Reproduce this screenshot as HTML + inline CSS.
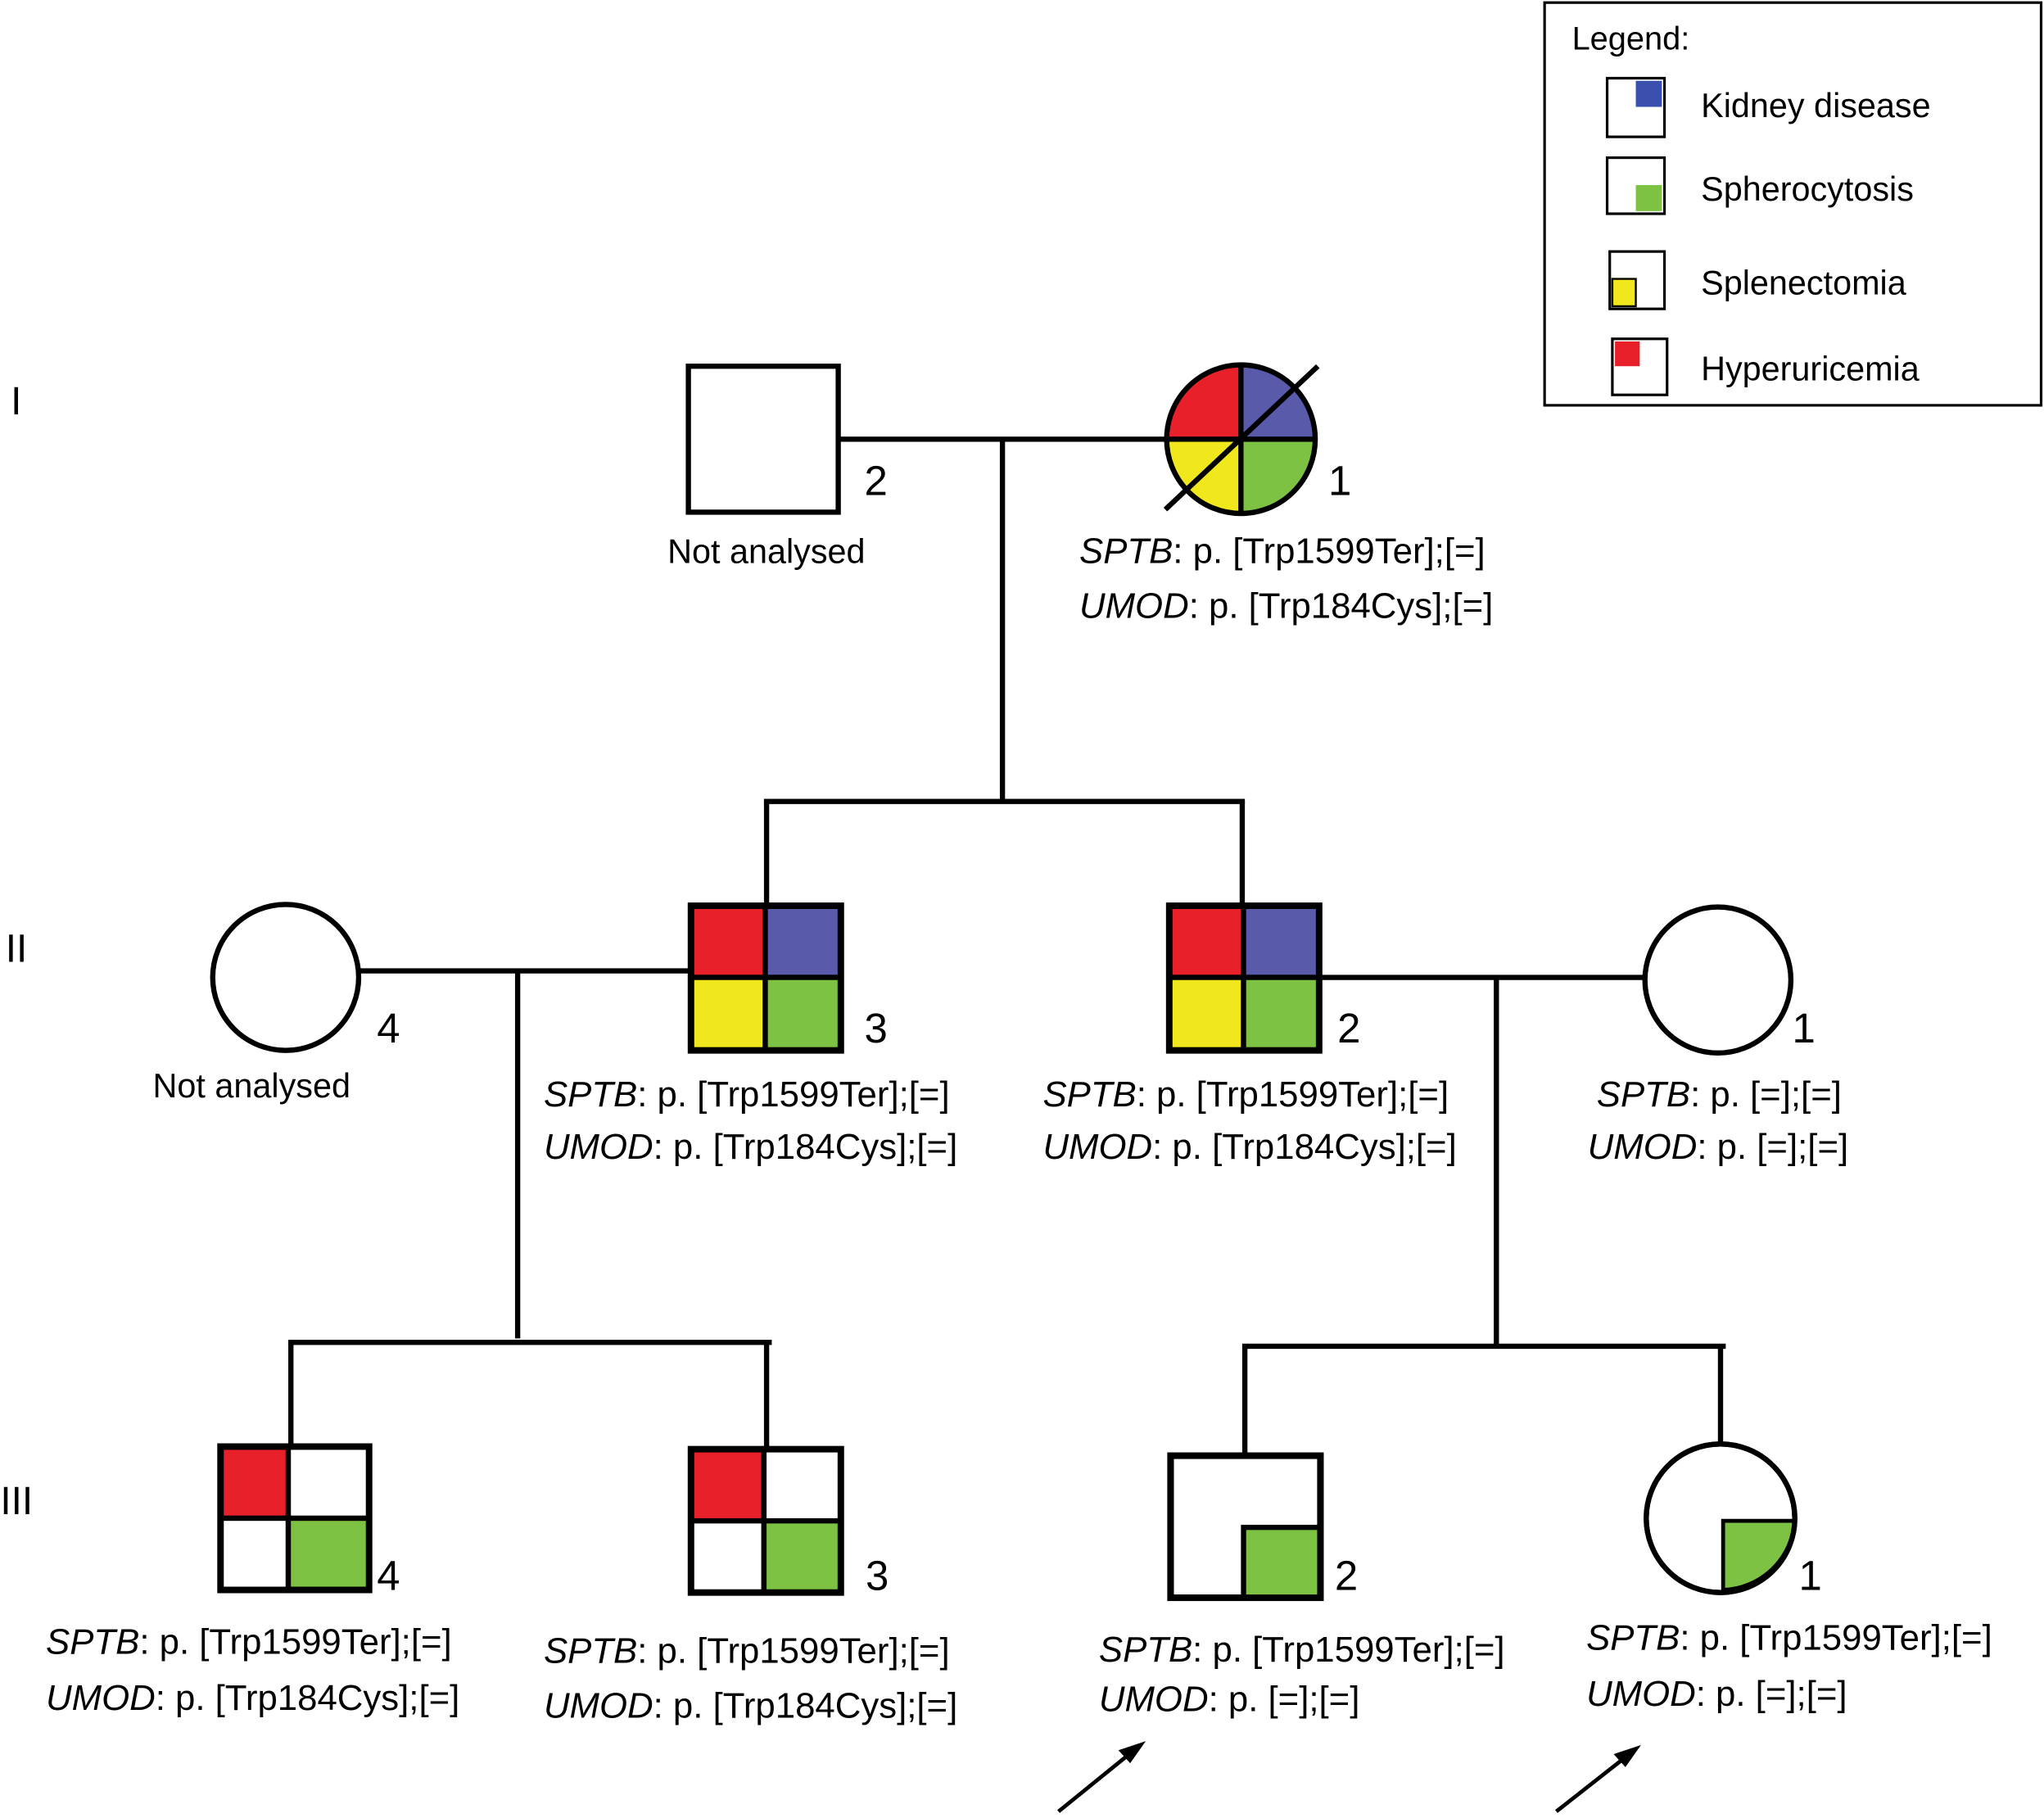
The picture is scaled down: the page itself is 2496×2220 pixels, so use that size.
<!DOCTYPE html>
<html><head><meta charset="utf-8"><style>html,body{margin:0;padding:0;background:#fff}svg{display:block}text{font-family:"Liberation Sans",sans-serif;fill:#000}</style></head>
<body>
<svg width="2496" height="2220" viewBox="0 0 1568 1395" xmlns="http://www.w3.org/2000/svg">
<rect width="1568" height="1395" fill="#fff"/>
<g stroke="#000" stroke-width="2" fill="none">
<rect x="1185" y="2" width="381" height="309"/>
</g>
<text x="1206" y="38" font-size="25">Legend:</text>
<g stroke="#000" stroke-width="2">
<rect x="1233" y="60" width="44" height="45" fill="#fff"/><rect x="1255" y="62" width="20" height="20" fill="#3a4fae" stroke="none"/>
<rect x="1233" y="121" width="44" height="43" fill="#fff"/><rect x="1255" y="142" width="20" height="20" fill="#7dc242" stroke="none"/>
<rect x="1235" y="193" width="42" height="44" fill="#fff"/><rect x="1237" y="214" width="18" height="21" fill="#f0e81c" stroke="#000" stroke-width="1.5"/>
<rect x="1237" y="260" width="42" height="43" fill="#fff"/><rect x="1239" y="262" width="19" height="19" fill="#e8202a" stroke="none"/>
</g>
<g font-size="26">
<text x="1305" y="90">Kidney disease</text>
<text x="1305" y="154">Spherocytosis</text>
<text x="1305" y="226">Splenectomia</text>
<text x="1305" y="292">Hyperuricemia</text>
</g>
<g font-size="30"><text x="8" y="318">I</text><text x="4" y="738">II</text><text x="0" y="1162">III</text></g>

<g stroke="#000" stroke-width="4" fill="none">
<line x1="643" y1="337" x2="896" y2="337"/>
<line x1="769" y1="337" x2="769" y2="615"/>
<line x1="586" y1="615" x2="955" y2="615"/>
<line x1="588" y1="615" x2="588" y2="695"/>
<line x1="953" y1="615" x2="953" y2="695"/>
<line x1="276" y1="745" x2="530" y2="745"/>
<line x1="397" y1="745" x2="397" y2="1027"/>
<line x1="221" y1="1030" x2="592" y2="1030"/>
<line x1="223" y1="1030" x2="223" y2="1110"/>
<line x1="588" y1="1030" x2="588" y2="1112"/>
<line x1="1012" y1="750" x2="1262" y2="750"/>
<line x1="1148" y1="750" x2="1148" y2="1033"/>
<line x1="953" y1="1033" x2="1324" y2="1033"/>
<line x1="955" y1="1033" x2="955" y2="1117"/>
<line x1="1320" y1="1033" x2="1320" y2="1108"/>
</g>

<rect x="528" y="281" width="115" height="112" fill="#fff" stroke="#000" stroke-width="4"/>
<g>
<path d="M952 337 L895 337 A57 57 0 0 1 952 280 Z" fill="#e8202a"/>
<path d="M952 337 L952 280 A57 57 0 0 1 1009 337 Z" fill="#5a5aab"/>
<path d="M952 337 L895 337 A57 57 0 0 0 952 394 Z" fill="#f0e81c"/>
<path d="M952 337 L1009 337 A57 57 0 0 1 952 394 Z" fill="#7dc242"/>
<g stroke="#000" stroke-width="4" fill="none">
<circle cx="952" cy="337" r="57"/>
<line x1="895" y1="337" x2="1009" y2="337"/><line x1="952" y1="280" x2="952" y2="394"/>
<line x1="894" y1="391" x2="1011" y2="281"/>
</g>
</g>
<g font-size="32"><text x="663" y="380">2</text><text x="1019" y="380">1</text></g>
<text x="512" y="432" font-size="26">Not analysed</text>
<g font-size="27.5">
<text x="828" y="432"><tspan font-style="italic">SPTB</tspan>: p. [Trp1599Ter];[=]</text>
<text x="828" y="474"><tspan font-style="italic">UMOD</tspan>: p. [Trp184Cys];[=]</text>
</g>

<circle cx="219" cy="750" r="56" fill="#fff" stroke="#000" stroke-width="4"/>
<text x="289" y="800" font-size="32">4</text>
<text x="117" y="842" font-size="26">Not analysed</text>
<g stroke="#000" stroke-width="4">
<rect x="530" y="695" width="57" height="55" fill="#e8202a"/><rect x="587" y="695" width="58" height="55" fill="#5a5aab"/>
<rect x="530" y="750" width="57" height="56" fill="#f0e81c"/><rect x="587" y="750" width="58" height="56" fill="#7dc242"/>
<rect x="530" y="695" width="115" height="111" fill="none" stroke-width="5"/>
</g>
<text x="663" y="800" font-size="32">3</text>
<g stroke="#000" stroke-width="4">
<rect x="897" y="695" width="57" height="55" fill="#e8202a"/><rect x="954" y="695" width="58" height="55" fill="#5a5aab"/>
<rect x="897" y="750" width="57" height="56" fill="#f0e81c"/><rect x="954" y="750" width="58" height="56" fill="#7dc242"/>
<rect x="897" y="695" width="115" height="111" fill="none" stroke-width="5"/>
</g>
<text x="1026" y="800" font-size="32">2</text>
<circle cx="1318" cy="752" r="56" fill="#fff" stroke="#000" stroke-width="4"/>
<text x="1375" y="800" font-size="32">1</text>
<g font-size="27.5">
<text x="417" y="849"><tspan font-style="italic">SPTB</tspan>: p. [Trp1599Ter];[=]</text>
<text x="417" y="889"><tspan font-style="italic">UMOD</tspan>: p. [Trp184Cys];[=]</text>
<text x="800" y="849"><tspan font-style="italic">SPTB</tspan>: p. [Trp1599Ter];[=]</text>
<text x="800" y="889"><tspan font-style="italic">UMOD</tspan>: p. [Trp184Cys];[=]</text>
<text x="1225" y="849"><tspan font-style="italic">SPTB</tspan>: p. [=];[=]</text>
<text x="1218" y="889"><tspan font-style="italic">UMOD</tspan>: p. [=];[=]</text>
</g>

<g stroke="#000" stroke-width="4">
<rect x="169" y="1110" width="52" height="55" fill="#e8202a"/><rect x="221" y="1110" width="62" height="55" fill="#fff"/>
<rect x="169" y="1165" width="52" height="55" fill="#fff"/><rect x="221" y="1165" width="62" height="55" fill="#7dc242"/>
<rect x="169" y="1110" width="114" height="110" fill="none" stroke-width="5"/>
</g>
<text x="289" y="1220" font-size="32">4</text>
<g stroke="#000" stroke-width="4">
<rect x="530" y="1112" width="56" height="55" fill="#e8202a"/><rect x="586" y="1112" width="59" height="55" fill="#fff"/>
<rect x="530" y="1167" width="56" height="55" fill="#fff"/><rect x="586" y="1167" width="59" height="55" fill="#7dc242"/>
<rect x="530" y="1112" width="115" height="110" fill="none" stroke-width="5"/>
</g>
<text x="664" y="1220" font-size="32">3</text>
<g stroke="#000" stroke-width="4">
<rect x="898" y="1117" width="115" height="109" fill="#fff" stroke-width="5"/>
<rect x="954" y="1172" width="59" height="54" fill="#7dc242"/>
<rect x="898" y="1117" width="115" height="109" fill="none" stroke-width="5"/>
</g>
<text x="1024" y="1220" font-size="32">2</text>
<circle cx="1320" cy="1165" r="57" fill="#fff" stroke="#000" stroke-width="4"/>
<path d="M1322 1167 L1377 1167 A57 57 0 0 1 1322 1220 Z" fill="#7dc242" stroke="#000" stroke-width="3"/>
<circle cx="1320" cy="1165" r="57" fill="none" stroke="#000" stroke-width="4"/>
<text x="1380" y="1220" font-size="32">1</text>
<g font-size="27.5">
<text x="35" y="1269"><tspan font-style="italic">SPTB</tspan>: p. [Trp1599Ter];[=]</text>
<text x="35" y="1312"><tspan font-style="italic">UMOD</tspan>: p. [Trp184Cys];[=]</text>
<text x="417" y="1276"><tspan font-style="italic">SPTB</tspan>: p. [Trp1599Ter];[=]</text>
<text x="417" y="1318"><tspan font-style="italic">UMOD</tspan>: p. [Trp184Cys];[=]</text>
<text x="843" y="1275"><tspan font-style="italic">SPTB</tspan>: p. [Trp1599Ter];[=]</text>
<text x="843" y="1313"><tspan font-style="italic">UMOD</tspan>: p. [=];[=]</text>
<text x="1217" y="1266"><tspan font-style="italic">SPTB</tspan>: p. [Trp1599Ter];[=]</text>
<text x="1217" y="1309"><tspan font-style="italic">UMOD</tspan>: p. [=];[=]</text>
</g>
<g stroke="#000" stroke-width="3">
<line x1="812" y1="1390" x2="870" y2="1343"/>
<line x1="1194" y1="1390" x2="1250" y2="1346"/>
</g>
<path d="M879 1336 L858 1343 L867 1353 Z" fill="#000"/>
<path d="M1259 1339 L1238 1346 L1247 1356 Z" fill="#000"/>
</svg>
</body></html>
